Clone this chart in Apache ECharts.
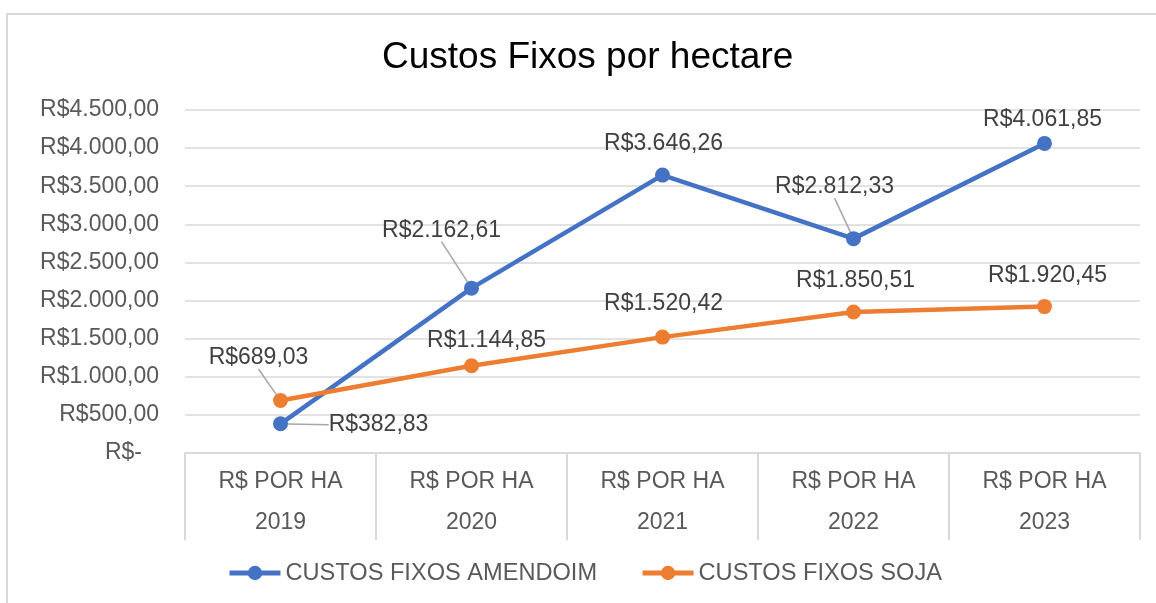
<!DOCTYPE html>
<html>
<head>
<meta charset="utf-8">
<script src="https://cdn.jsdelivr.net/npm/echarts@6/dist/echarts.min.js"></script>
<style>
  html, body { margin: 0; padding: 0; background: #fff; }
  #chart { width: 1156px; height: 603px; }
</style>
</head>
<body>
<div id="chart"></div>
<script>
// data
var years = ['2019', '2020', '2021', '2022', '2023'];
var amendoim = [382.83, 2162.61, 3646.26, 2812.33, 4061.85];
var soja = [689.03, 1144.85, 1520.42, 1850.51, 1920.45];
var yTicks = [0, 500, 1000, 1500, 2000, 2500, 3000, 3500, 4000, 4500];

// label offsets (label centre minus point centre) and which ones get a leader line
var labelOffsets = [
  [[98, 1], [-30, -58], [1, -31], [-19, -52], [-2, -24]],
  [[-22, -43], [15, -25], [1, -33], [2, -31], [3, -31]]
];
var leaders = [
  [true, true, false, true, false],
  [true, false, false, false, false]
];

var FONT = "'Liberation Sans', Arial, sans-serif";

//brazilian currency format
function brl(v) {
  if (v == 0) return 'R$-';
  var parts = v.toFixed(2).split('.');
  var int = parts[0].replace(/\B(?=(\d{3})+(?!\d))/g, '.');
  return 'R$' + int + ',' + parts[1];
}

function buildData(values, s) {
  return values.map(function(v, i) {
    return {
      value: v,
      labelLine: { show: leaders[s][i] }
    };
  });
}

function seriesOf(name, values, color, s) {
  return {
    name: name,
    type: 'line',
    data: buildData(values, s),
    symbol: 'circle',
    symbolSize: 15,
    lineStyle: { color: color, width: 4.5 },
    itemStyle: { color: color },
    label: {
      show: true,
      position: 'top',
      fontFamily: FONT,
      fontSize: 23,
      color: '#404040',
      formatter: function(p) { return brl(p.value); }
    },
    labelLine: {
      show: false,
      lineStyle: { color: '#A6A6A6', width: 1.5 }
    },
    labelLayout: function(params) {
      var off = labelOffsets[s][params.dataIndex];
      var r = params.rect, l = params.labelRect;
      return {
        dx: r.x + r.width / 2 + off[0] - (l.x + l.width / 2),
        dy: r.y + r.height / 2 + off[1] - (l.y + l.height / 2)
      };
    },
    emphasis: { disabled: true }
  };
}

var chart = echarts.init(document.getElementById('chart'));

var option = {
  animation: false,
  textStyle: { fontFamily: FONT },
  graphic: [{
    type: 'rect',
    shape: { x: 7, y: 14, width: 1300, height: 700 },
    style: { fill: 'none', stroke: '#D9D9D9', lineWidth: 2 },
    z: -1
  }],
  title: {
    text: 'Custos Fixos por hectare',
    left: 382,
    top: 39,
    padding: 0,
    textStyle: { fontFamily: FONT, fontSize: 37, fontWeight: 'normal', color: '#000' }
  },
  legend: {
    left: 227,
    top: 561,
    padding: 0,
    itemWidth: 51,
    itemHeight: 18,
    itemGap: 43,
    lineStyle: { width: 5 },
    textStyle: { fontFamily: FONT, fontSize: 23.6, color: '#595959' },
    data: ['CUSTOS FIXOS AMENDOIM', 'CUSTOS FIXOS SOJA']
  },
  grid: { left: 185, right: 16, top: 110, bottom: 150 },
  xAxis: {
    type: 'category',
    data: years,
    boundaryGap: true,
    axisLine: { lineStyle: { color: '#D9D9D9', width: 2 } },
    axisTick: { show: true, length: 87, interval: 0, lineStyle: { color: '#D9D9D9', width: 2 } },
    axisLabel: {
      interval: 0,
      margin: 8,
      fontFamily: FONT,
      fontSize: 23,
      lineHeight: 41,
      color: '#595959',
      formatter: function(v) { return 'R$ POR HA\n' + v; }
    }
  },
  yAxis: {
    type: 'value',
    min: yTicks[0],
    max: yTicks[yTicks.length - 1],
    interval: yTicks[1] - yTicks[0],
    axisLine: { show: false },
    axisTick: { show: false },
    splitLine: { lineStyle: { color: '#D9D9D9', width: 1.5 } },
    axisLabel: {
      margin: 26,
      fontFamily: FONT,
      fontSize: 23,
      color: '#595959',
      formatter: function(v) {
        return v == 0 ? '{z|' + brl(v) + '}' : brl(v);
      },
      rich: {
        z: { fontFamily: FONT, fontSize: 23, color: '#595959', padding: [0, 17, 0, 0] }
      }
    }
  },
  series: [
    seriesOf('CUSTOS FIXOS AMENDOIM', amendoim, '#4472C4', 0),
    seriesOf('CUSTOS FIXOS SOJA', soja, '#ED7D31', 1)
  ]
};

chart.setOption(option);
</script>
</body>
</html>
